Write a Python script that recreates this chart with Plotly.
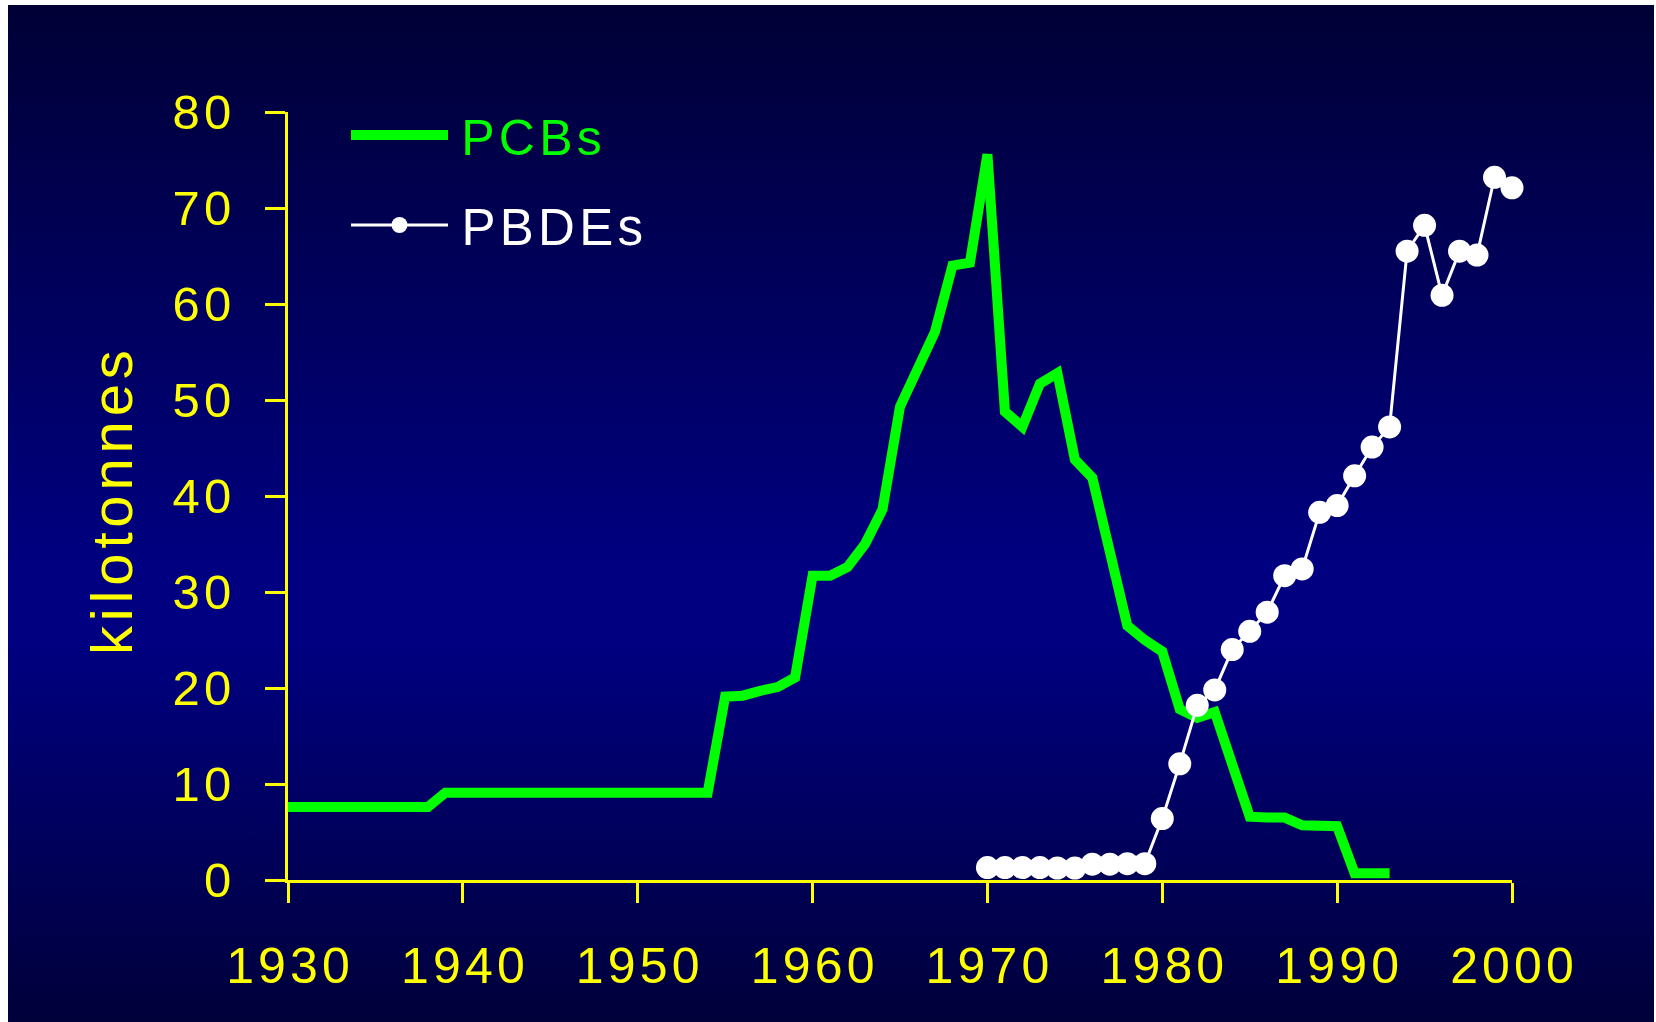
import base64
import plotly.graph_objects as go

# ---------------- data ----------------
PCB_YEARS = list(range(1930, 1994))
PCB_KT = [7.6, 7.6, 7.6, 7.6, 7.6, 7.6, 7.6, 7.6, 7.6,            # 1930-1938
          9.1, 9.1, 9.1, 9.1, 9.1, 9.1, 9.1, 9.1, 9.1, 9.1,       # 1939-1948
          9.1, 9.1, 9.1, 9.1, 9.1, 9.1,                           # 1949-1954
          19.1, 19.2, 19.7, 20.1, 21.1,                           # 1955-1959
          31.7, 31.7, 32.6, 35.0, 38.6, 49.3, 53.2, 57.1, 64.0, 64.3,  # 1960-1969
          75.6, 48.8, 47.2, 51.7, 52.8, 43.8, 41.9, 34.0, 26.5, 25.0,  # 1970-1979
          23.8, 17.8, 16.9, 17.5, 11.9, 6.6, 6.5, 6.5, 5.7, 5.7,       # 1980-1989
          5.6, 0.7, 0.7, 0.7]                                     # 1990-1993

PBDE_YEARS = list(range(1970, 2001))
PBDE_KT = [1.3, 1.3, 1.3, 1.3, 1.25, 1.25, 1.65, 1.65, 1.7, 1.7,   # 1970-1979
           6.4, 12.1, 18.2, 19.8, 24.0, 25.9, 27.9, 31.7, 32.4, 38.3,  # 1980-1989
           39.0, 42.1, 45.1, 47.2, 65.5, 68.2, 60.9, 65.5, 65.1, 73.2,  # 1990-1999
           72.1]                                                  # 2000

X_TICKS = [1930, 1940, 1950, 1960, 1970, 1980, 1990, 2000]
X_TICK_LABELS = ["1930", "1940", "1950", "1960", "1970", "1980", "1990", "2000"]
Y_TICKS = [0, 10, 20, 30, 40, 50, 60, 70, 80]
Y_TICK_LABELS = ["0", "10", "20", "30", "40", "50", "60", "70", "80"]

SERIES_NAMES = ["PCBs", "PBDEs"]
Y_TITLE = "kilotonnes"

# ---------------- styling ----------------
W, H = 1656, 1022
ML, MR, MT, MB = 288, 144, 112, 142
PW, PH = W - ML - MR, H - MT - MB
YELLOW = "#ffff00"
GREEN = "#00ff00"
FONT = "Liberation Sans, Arial, sans-serif"
HS = "\u200a"  # hair space used for letter spacing


def spaced(s):
    return HS.join(s)


def px_to_paper_x(px):
    return (px - ML) / PW


def px_to_paper_y(py):
    return (H - MB - py) / PH


# vertical background gradient (svg data uri)
svg = (
    "<svg xmlns='http://www.w3.org/2000/svg' viewBox='0 0 100 100' "
    "preserveAspectRatio='none' width='100' height='100'>"
    "<defs><linearGradient id='g' x1='0' y1='0' x2='0' y2='1'>"
    "<stop offset='0' stop-color='#000036'/>"
    "<stop offset='0.55' stop-color='#000080'/>"
    "<stop offset='0.63' stop-color='#000080'/>"
    "<stop offset='1' stop-color='#00003a'/>"
    "</linearGradient></defs>"
    "<rect x='0' y='0' width='100' height='100' fill='url(#g)'/></svg>"
)
bg_src = "data:image/svg+xml;base64," + base64.b64encode(svg.encode()).decode()

fig = go.Figure()

fig.add_trace(go.Scatter(
    x=PCB_YEARS, y=PCB_KT, mode="lines",
    name=f"<span style='color:{GREEN}'>{HS}{HS}{spaced(SERIES_NAMES[0])}</span>",
    line=dict(color=GREEN, width=10),
    legendgroup="a", cliponaxis=False,
))
fig.add_trace(go.Scatter(
    x=PBDE_YEARS, y=PBDE_KT, mode="lines+markers",
    name=f"<span style='color:#ffffff;font-size:51px'>{HS}{HS}{spaced(SERIES_NAMES[1])}</span>",
    line=dict(color="#ffffff", width=3),
    marker=dict(color="#ffffff", size=23, line=dict(width=0)),
    legendgroup="b", cliponaxis=False,
))

fig.update_layout(
    width=W, height=H,
    margin=dict(l=ML, r=MR, t=MT, b=MB, pad=0, autoexpand=False),
    paper_bgcolor="#ffffff",
    plot_bgcolor="rgba(0,0,0,0)",
    font=dict(family=FONT, color=YELLOW),
    showlegend=True,
    legend=dict(
        x=px_to_paper_x(346), y=px_to_paper_y(96),
        xanchor="left", yanchor="top",
        bgcolor="rgba(0,0,0,0)", borderwidth=0,
        font=dict(family=FONT, size=50, color="#ffffff"),
        itemwidth=97, tracegroupgap=22, traceorder="grouped",
    ),
    images=[dict(
        source=bg_src, xref="paper", yref="paper",
        x=px_to_paper_x(8), y=px_to_paper_y(5),
        sizex=(W - 2 - 8) / PW, sizey=(H - 5) / PH,
        xanchor="left", yanchor="top", sizing="stretch", layer="below",
    )],
    annotations=[dict(
        text=spaced(Y_TITLE), textangle=-90,
        xref="paper", yref="paper",
        x=px_to_paper_x(112), y=px_to_paper_y(503),
        xanchor="center", yanchor="middle", showarrow=False,
        font=dict(family=FONT, size=58, color=YELLOW),
    )],
    xaxis=dict(
        range=[1930, 2000], showgrid=False, zeroline=False, automargin=False,
        showline=True, linecolor=YELLOW, linewidth=3,
        ticks="outside", ticklen=20, tickwidth=3, tickcolor=YELLOW,
        tickvals=X_TICKS, ticktext=[spaced(t) for t in X_TICK_LABELS],
        tickfont=dict(family=FONT, size=50, color=YELLOW),
        ticklabelstandoff=20,
    ),
    yaxis=dict(
        range=[0, 80], showgrid=False, zeroline=False, automargin=False,
        showline=True, linecolor=YELLOW, linewidth=3,
        ticks="outside", ticklen=20, tickwidth=3, tickcolor=YELLOW,
        tickvals=Y_TICKS, ticktext=[spaced(t) for t in Y_TICK_LABELS],
        tickfont=dict(family=FONT, size=49, color=YELLOW),
        ticklabelstandoff=24,
    ),
)

fig.write_html(
    "out.html",
    config={"displayModeBar": False},
    post_script="document.body.style.margin='0';document.body.style.overflow='hidden';",
)
